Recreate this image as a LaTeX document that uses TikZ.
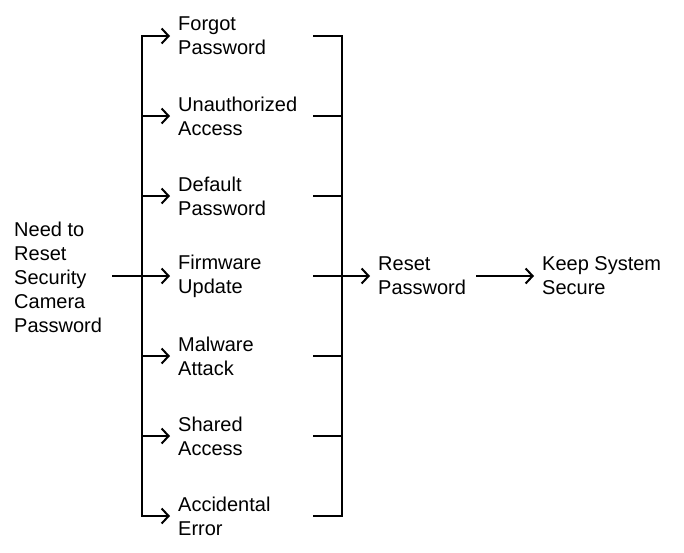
\documentclass[tikz,border=0pt]{standalone}
\usepackage{fontspec}
\setmainfont{Liberation Sans}
\usepackage{tikz}
\usetikzlibrary{arrows.meta, positioning, calc}

\tikzset{
  lbl/.style={anchor=west, align=left, inner xsep=8pt, inner ysep=0pt,
    font=\fontsize{20}{24}\selectfont},
  link/.style={line width=2pt, line cap=rect},
  arr/.style={link, -{Straight Barb[length=7pt, width=15pt, line width=2pt]}}
}

\begin{document}
\begin{tikzpicture}[x=1pt, y=-1pt]
			\useasboundingbox (0,0) rectangle (684,552);
			% start
			\node[lbl, inner xsep=0pt] (need) at (14,277) {Need to\\Reset\\Security\\Camera\\Password};
			\coordinate (split) at (142,276);
			\coordinate (join) at (342,276);
			\draw[link] ([xshift=11pt, yshift=1pt]need.east) -- (split);
			% reasons, one row every 80
			\foreach \txt [count=\i] in {{Forgot\\Password}, {Unauthorized\\Access},
				{Default\\Password}, {Firmware\\Update}, {Malware\\Attack},
				{Shared\\Access}, {Accidental\\Error}} {
				\node[lbl] (cause\i) at (170,{36+80*(\i-1)}) {\txt};
				\coordinate (out\i) at (314,{36+80*(\i-1)});
				\draw[arr] (split) |- (cause\i);
				\draw[link] (out\i) -| (join);
			}
			% outcome
			\node[lbl] (reset) at (370,276) {Reset\\Password};
			\node[lbl] (keep) at (534,276) {Keep System\\Secure};
			\draw[arr] (out4) -- (reset);
			\draw[arr] ([xshift=3pt]reset.east) -- (keep);
		\end{tikzpicture}
\end{document}
